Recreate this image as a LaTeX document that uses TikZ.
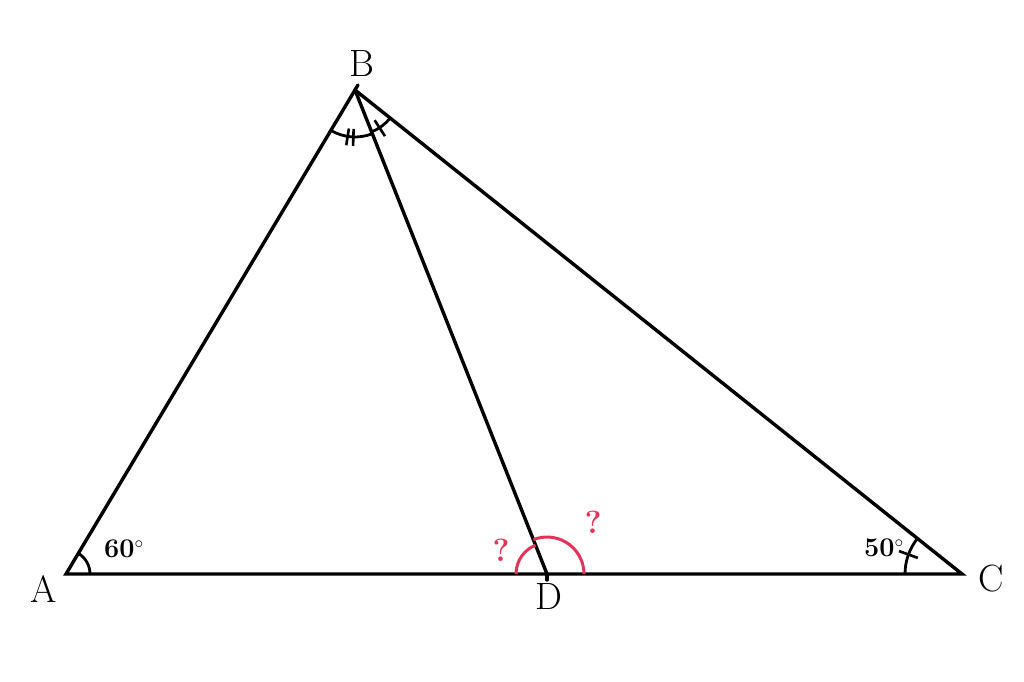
\documentclass[tikz,border=0pt]{standalone}
\usepackage{fontspec}
\usetikzlibrary{calc,angles}
\definecolor{qred}{RGB}{226,52,86}
\begin{document}
\begin{tikzpicture}[x=1pt,y=1pt,
  seg/.style={line width=3.4pt,line cap=round},
  arcmark/.style={draw,line width=2.8pt},
  tick/.style={line width=2.6pt},
  redarc/.style={draw=qred,line width=3pt},
  lbl/.style={font=\fontsize{38}{40}\selectfont},
  ang/.style={font=\bfseries\fontsize{27}{29}\selectfont},
  qm/.style={text=qred,font=\bfseries\fontsize{32}{34}\selectfont}]
\useasboundingbox[fill=white] (0,0) rectangle (1024,681);
\coordinate (A) at (66,107);
\coordinate (B) at (355,591);
\coordinate (C) at (962,107);
\coordinate (D) at (547,107);
\draw[seg] (A) -- (B) -- (C) -- cycle;
\draw[seg] (B) -- (D);
\draw[seg] (B) -- ++(3,5);
\draw[seg] (D) -- ++(0,-6);
% angle arcs
\pic[arcmark,angle radius=47pt] {angle=A--B--D};
\pic[arcmark,angle radius=45pt] {angle=D--B--C};
\pic[arcmark,angle radius=24pt] {angle=C--A--B};
\pic[arcmark,angle radius=57pt] {angle=B--C--A};
\pic[redarc,angle radius=31pt] {angle=B--D--A};
\pic[redarc,angle radius=37pt] {angle=C--D--B};
% ticks
\draw[tick] ($(B)+(261:39)$) -- ($(B)+(261:56)$);
\draw[tick] ($(B)+(268:39)$) -- ($(B)+(268:56)$);
\draw[tick] ($(B)+(303:36)$) -- ($(B)+(303:55)$);
\draw[tick] ($(C)+(160:47)$) -- ($(C)+(160:67)$);
% labels
\node[lbl] (lB) at (362,617) {B};
\node[lbl] (lA) at (44,92) {A};
\node[lbl] (lD) at (549,84) {D};
\node[lbl] (lC) at (991,102) {C};
\node[ang] (a60) at (124,132) {60$^\circ$};
\node[ang] (a50) at (884,133) {50$^\circ$};
\node[qm] (q1) at (501,131) {?};
\node[qm] (q2) at (593,159) {?};
\end{tikzpicture}
\end{document}
